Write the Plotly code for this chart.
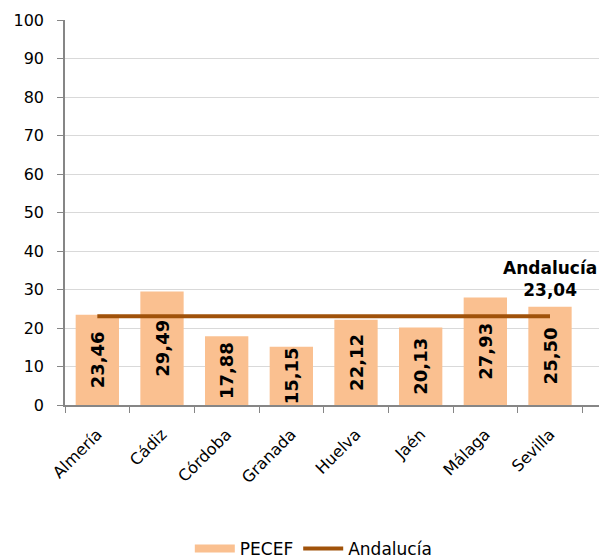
import plotly.graph_objects as go

provincias = ["Almería", "Cádiz", "Córdoba", "Granada", "Huelva", "Jaén", "Málaga", "Sevilla"]
pecef = [23.46, 29.49, 17.88, 15.15, 22.12, 20.13, 27.93, 25.50]
andalucia_val = 23.04
andalucia = [andalucia_val] * len(provincias)

def fmt(v):
    return f"{v:.2f}".replace(".", ",")

fig = go.Figure()
fig.add_trace(go.Bar(
    x=provincias, y=pecef, name="PECEF", showlegend=False,
    marker=dict(color="#FAC090", line=dict(width=0)),
    text=[fmt(v) for v in pecef],
    textposition="inside", insidetextanchor="middle", textangle=-90,
    textfont=dict(family="DejaVu Sans", size=18, color="black", weight="bold"),
    cliponaxis=False,
))
# legend proxy for the bars (wide swatch)
fig.add_trace(go.Scatter(
    x=[None], y=[None], name="PECEF", mode="lines",
    line=dict(color="#FAC090", width=8),
))
fig.add_trace(go.Scatter(
    x=provincias, y=andalucia, name="Andalucía", mode="lines",
    line=dict(color="#A0520A", width=4),
))
fig.add_annotation(
    x=provincias[-1], y=andalucia_val, yshift=14, xshift=0, text="Andalucía<br>23,04",
    showarrow=False, yanchor="bottom", xanchor="center", align="center",
    font=dict(family="DejaVu Sans", size=17, color="black", weight="bold"),
)
fig.update_layout(
    width=606, height=558,
    margin=dict(l=65, r=7, t=20, b=153, autoexpand=False),
    paper_bgcolor="white", plot_bgcolor="white",
    font=dict(family="DejaVu Sans", size=16, color="black"),
    bargap=0.33,
    uniformtext=dict(minsize=18, mode="show"),
    showlegend=True,
    legend=dict(orientation="h", x=0.465, xanchor="center", y=-0.374, yanchor="middle",
                itemwidth=40,
                font=dict(family="DejaVu Sans", size=17)),
    xaxis=dict(showline=True, linecolor="#868686", linewidth=1.5, ticks="outside",
               tickson="boundaries", ticklen=6, tickcolor="#868686", tickangle=-45,
               ticklabelstandoff=12, showgrid=False, automargin=False),
    yaxis=dict(range=[0, 100], dtick=10, showline=True, linecolor="#868686", linewidth=1.5,
               ticks="outside", ticklen=6, tickcolor="#868686", showgrid=True,
               ticklabelstandoff=10,
               gridcolor="#D9D9D9", gridwidth=1, zeroline=False, automargin=False),
)
fig.write_html("out.html", config={"displayModeBar": False},
               post_script="document.body.style.margin='0';")
